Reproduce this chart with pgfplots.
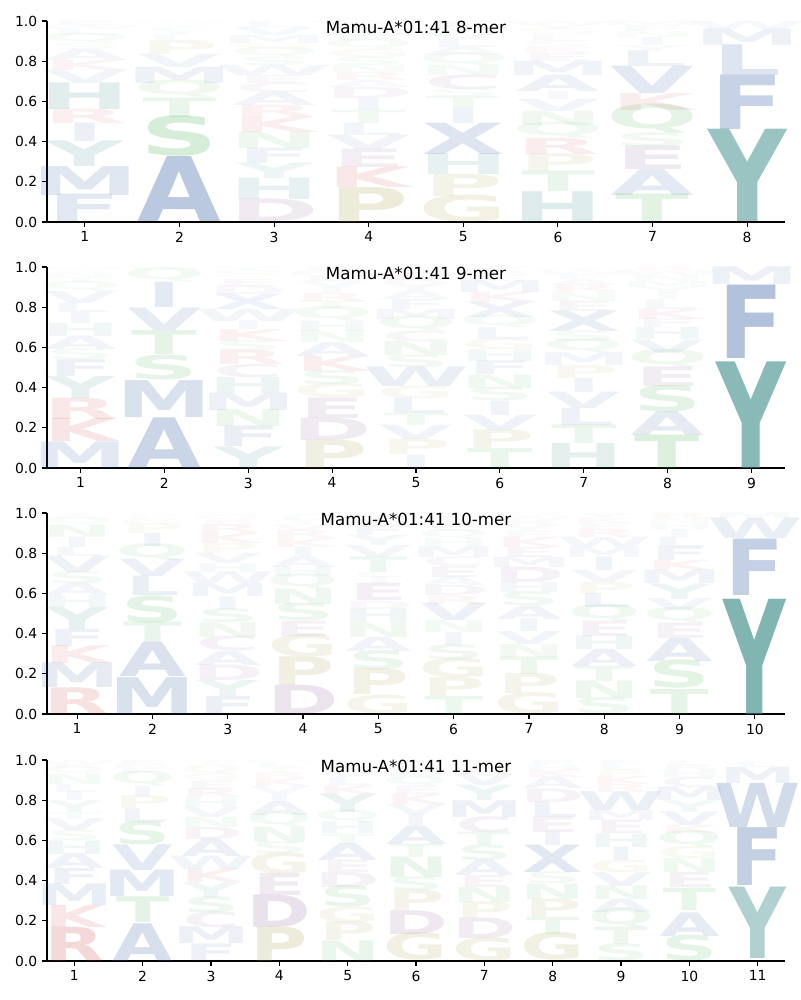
\documentclass[border=0pt]{standalone}
\usepackage{pgfplots}
\usepackage{pgfplotstable}
\usepackage{fontspec}
\pgfplotsset{compat=1.18}
\setmainfont{DejaVu Sans}
\newfontfamily\logofont{DejaVu Sans}
\definecolor{cblue}{RGB}{60,100,165}
\definecolor{cgreen}{RGB}{60,170,70}
\definecolor{cpurple}{RGB}{130,80,140}
\definecolor{colive}{RGB}{160,150,60}
\definecolor{cred}{RGB}{200,50,50}
\definecolor{cteal}{RGB}{50,135,130}
\colorlet{cA}{cblue}\colorlet{cV}{cblue}\colorlet{cL}{cblue}\colorlet{cI}{cblue}
\colorlet{cM}{cblue}\colorlet{cF}{cblue}\colorlet{cW}{cblue}\colorlet{cX}{cblue}
\colorlet{cS}{cgreen}\colorlet{cT}{cgreen}\colorlet{cN}{cgreen}\colorlet{cQ}{cgreen}
\colorlet{cD}{cpurple}\colorlet{cE}{cpurple}\colorlet{cC}{cpurple}
\colorlet{cP}{colive}\colorlet{cG}{colive}
\colorlet{cK}{cred}\colorlet{cR}{cred}
\colorlet{cY}{cteal}\colorlet{cH}{cteal}
\newdimen\logoW
\newdimen\logoHt
\newbox\logobox
\pgfplotsset{
 panel/.style={
  scale only axis, width=531.36pt, height=144.72pt,
  anchor=south west,
  xmin=0.6, ymin=0, ymax=1,
  axis x line*=bottom, axis y line*=left,
  tick align=outside, major tick length=3.5pt,
  axis line style={line width=0.8pt, black},
  tick style={line width=0.8pt, black},
  ytick={0,0.2,0.4,0.6,0.8,1.0},
  yticklabel style={/pgf/number format/.cd, fixed, fixed zerofill, precision=1},
  /pgf/number format/assume math mode=true,
  tick label style={font=\fontsize{10}{12}\selectfont},
  title style={at={(0.5,0.925)}, anchor=center, font=\fontsize{12}{14}\selectfont},
 },
 logo/.style={
  scatter, only marks, point meta=explicit symbolic,
  mark=*, mark size=0pt, mark options={draw=none, fill=none},
  visualization depends on={\thisrow{top}-\thisrow{bot} \as \logoh},
  scatter/@pre marker code/.code={%
    \pgfkeys{/pgf/fpu=false}%
    \edef\logolett{\pgfplotspointmeta}%
    \setbox\logobox=\hbox{\fontsize{10}{12}\logofont\bfseries\logolett}%
    \logoW=\wd\logobox
    \logoHt=\ht\logobox
    \advance\logoHt by \dp\logobox
    \ifdim\logoW<0.5pt \logoW=7pt\fi
    \ifdim\logoHt<0.5pt \logoHt=7pt\fi
    \pgfmathsetmacro{\logosx}{#1/\logoW}%
    \pgfmathsetmacro{\logosy}{\logoh*141.8/\logoHt}%
    \pgfmathsetmacro{\logoop}{min(0.9,1.1*\logoh)}%
    \node[inner sep=0pt, outer sep=0pt, anchor=south, xscale=\logosx, yscale=\logosy, opacity=\logoop, text=c\logolett] at (canvas cs:x=0pt,y=0pt) {\fontsize{10}{12}\logofont\bfseries\logolett};
  },
  scatter/@post marker code/.code={},
 },
}

\pgfplotstableread{
x bot top aa
1 0 0.134 F
1 0.134 0.275 M
1 0.275 0.40 Y
1 0.40 0.49 I
1 0.49 0.56 R
1 0.56 0.69 H
1 0.69 0.755 V
1 0.755 0.805 K
1 0.805 0.86 A
1 0.86 0.89 S
1 0.89 0.93 Q
1 0.93 0.96 L
1 0.96 0.98 W
1 0.98 1.0 E
2 0 0.317 A
2 0.325 0.515 S
2 0.52 0.615 T
2 0.62 0.69 Q
2 0.69 0.77 M
2 0.77 0.835 V
2 0.835 0.90 P
2 0.90 0.93 L
2 0.93 0.95 I
2 0.95 0.97 F
2 0.97 0.985 Y
2 0.985 1.0 W
3 0 0.11 D
3 0.11 0.215 H
3 0.215 0.29 Y
3 0.29 0.365 F
3 0.365 0.445 N
3 0.445 0.52 K
3 0.52 0.58 R
3 0.58 0.645 A
3 0.645 0.69 C
3 0.69 0.73 E
3 0.73 0.78 W
3 0.78 0.82 S
3 0.82 0.86 Q
3 0.86 0.89 G
3 0.89 0.93 M
3 0.93 0.97 V
3 0.97 1.0 L
4 0 0.17 P
4 0.17 0.27 K
4 0.27 0.36 E
4 0.36 0.43 V
4 0.43 0.49 L
4 0.49 0.555 T
4 0.555 0.615 I
4 0.615 0.67 D
4 0.67 0.705 A
4 0.705 0.745 R
4 0.745 0.78 N
4 0.78 0.82 S
4 0.82 0.86 G
4 0.86 0.90 Q
4 0.90 0.93 F
4 0.93 0.96 M
4 0.96 0.98 Y
4 0.98 1.0 W
5 0 0.126 G
5 0.126 0.234 P
5 0.234 0.337 H
5 0.337 0.49 X
5 0.49 0.565 I
5 0.565 0.625 T
5 0.625 0.66 S
5 0.66 0.73 C
5 0.73 0.78 N
5 0.78 0.83 Q
5 0.83 0.87 A
5 0.87 0.91 L
5 0.91 0.94 V
5 0.94 0.97 M
5 0.97 1.0 F
6 0 0.15 H
6 0.15 0.25 T
6 0.25 0.337 P
6 0.337 0.416 R
6 0.416 0.48 Q
6 0.48 0.55 N
6 0.55 0.61 V
6 0.61 0.65 I
6 0.65 0.73 A
6 0.73 0.80 M
6 0.80 0.84 E
6 0.84 0.87 K
6 0.87 0.90 S
6 0.90 0.93 L
6 0.93 0.96 G
6 0.96 0.98 Y
6 0.98 1.0 W
7 0 0.134 T
7 0.134 0.26 A
7 0.26 0.375 E
7 0.375 0.44 S
7 0.44 0.557 Q
7 0.557 0.64 K
7 0.64 0.773 V
7 0.773 0.85 L
7 0.85 0.88 Y
7 0.88 0.92 I
7 0.92 0.95 N
7 0.95 0.98 F
7 0.98 1.0 M
8 0 0.45 Y
8 0.458 0.723 F
8 0.73 0.88 L
8 0.88 0.96 M
8 0.96 1.0 W
}\tabA

\pgfplotstableread{
x bot top aa
1 0 0.13 M
1 0.13 0.243 K
1 0.243 0.347 R
1 0.347 0.455 Y
1 0.455 0.537 F
1 0.537 0.59 S
1 0.59 0.655 A
1 0.655 0.72 H
1 0.72 0.775 I
1 0.775 0.82 L
1 0.82 0.88 V
1 0.88 0.92 Q
1 0.92 0.95 T
1 0.95 0.97 N
1 0.97 0.985 E
1 0.985 1.0 W
2 0 0.247 A
2 0.25 0.43 M
2 0.438 0.555 S
2 0.563 0.68 T
2 0.683 0.793 V
2 0.797 0.92 I
2 0.927 0.983 Q
2 0.983 1.0 N
3 0 0.105 Y
3 0.105 0.205 F
3 0.205 0.288 N
3 0.288 0.372 M
3 0.372 0.45 H
3 0.45 0.513 C
3 0.513 0.583 R
3 0.583 0.63 S
3 0.63 0.688 K
3 0.688 0.73 I
3 0.73 0.788 W
3 0.788 0.863 X
3 0.863 0.905 D
3 0.905 0.94 E
3 0.94 0.96 G
3 0.96 0.98 Q
3 0.98 1.0 T
4 0 0.138 P
4 0.138 0.247 D
4 0.247 0.347 E
4 0.347 0.413 G
4 0.413 0.48 S
4 0.48 0.555 K
4 0.555 0.622 A
4 0.622 0.68 N
4 0.68 0.73 H
4 0.73 0.788 Q
4 0.788 0.83 T
4 0.83 0.87 R
4 0.87 0.90 I
4 0.90 0.93 V
4 0.93 0.96 L
4 0.96 0.98 M
4 0.98 1.0 F
5 0 0.065 I
5 0.065 0.14 P
5 0.14 0.21 V
5 0.21 0.27 T
5 0.27 0.345 L
5 0.345 0.405 G
5 0.405 0.50 W
5 0.50 0.56 S
5 0.56 0.63 N
5 0.63 0.68 C
5 0.68 0.74 Q
5 0.74 0.79 M
5 0.79 0.84 F
5 0.84 0.88 A
5 0.88 0.92 Y
5 0.92 0.95 R
5 0.95 0.975 E
5 0.975 1.0 K
6 0 0.097 T
6 0.097 0.188 P
6 0.188 0.263 V
6 0.263 0.333 I
6 0.333 0.397 S
6 0.397 0.463 N
6 0.463 0.53 F
6 0.53 0.588 H
6 0.588 0.638 G
6 0.638 0.697 L
6 0.697 0.747 Q
6 0.747 0.822 X
6 0.822 0.872 K
6 0.872 0.93 M
6 0.93 0.96 E
6 0.96 0.98 R
6 0.98 1.0 Y
7 0 0.122 H
7 0.122 0.213 T
7 0.213 0.297 L
7 0.297 0.377 V
7 0.377 0.447 I
7 0.447 0.51 P
7 0.51 0.572 M
7 0.572 0.63 Q
7 0.63 0.68 S
7 0.68 0.78 X
7 0.78 0.83 E
7 0.83 0.872 N
7 0.872 0.91 R
7 0.91 0.94 A
7 0.94 0.965 F
7 0.965 0.985 W
7 0.985 1.0 Y
8 0 0.163 T
8 0.163 0.28 A
8 0.28 0.405 S
8 0.405 0.50 E
8 0.50 0.572 Q
8 0.572 0.638 V
8 0.638 0.697 H
8 0.697 0.74 F
8 0.74 0.79 K
8 0.79 0.838 L
8 0.838 0.87 I
8 0.87 0.90 Y
8 0.90 0.93 M
8 0.93 0.96 N
8 0.96 0.98 W
8 0.98 1.0 R
9 0 0.52 Y
9 0.547 0.905 F
9 0.913 1.0 M
}\tabB

\pgfplotstableread{
x bot top aa
1 0 0.13 R
1 0.13 0.25 M
1 0.25 0.337 K
1 0.338 0.422 F
1 0.422 0.53 Y
1 0.53 0.588 H
1 0.588 0.647 A
1 0.647 0.705 S
1 0.705 0.785 V
1 0.785 0.83 L
1 0.83 0.88 I
1 0.88 0.94 N
1 0.94 0.97 Q
1 0.97 0.985 E
1 0.985 1.0 T
2 0 0.18 M
2 0.188 0.355 A
2 0.355 0.455 T
2 0.455 0.583 S
2 0.588 0.683 L
2 0.683 0.767 V
2 0.767 0.833 Q
2 0.833 0.897 I
2 0.90 0.95 P
2 0.95 0.97 N
2 0.97 0.985 E
2 0.985 1.0 R
3 0 0.088 F
3 0.088 0.167 Y
3 0.167 0.243 D
3 0.243 0.313 A
3 0.313 0.383 C
3 0.383 0.455 N
3 0.455 0.522 S
3 0.522 0.583 I
3 0.583 0.647 M
3 0.647 0.705 W
3 0.705 0.747 H
3 0.747 0.797 V
3 0.797 0.847 P
3 0.847 0.897 K
3 0.897 0.94 R
3 0.94 0.965 E
3 0.965 0.985 Q
3 0.985 1.0 G
4 0 0.143 D
4 0.143 0.283 P
4 0.283 0.388 G
4 0.388 0.463 E
4 0.463 0.547 S
4 0.547 0.622 N
4 0.622 0.683 Q
4 0.683 0.73 H
4 0.73 0.783 A
4 0.783 0.83 I
4 0.83 0.872 K
4 0.872 0.913 R
4 0.913 0.94 V
4 0.94 0.965 T
4 0.965 0.985 L
4 0.985 1.0 Y
5 0 0.088 G
5 0.097 0.222 P
5 0.222 0.313 S
5 0.313 0.383 A
5 0.383 0.455 N
5 0.455 0.522 H
5 0.522 0.563 D
5 0.563 0.647 E
5 0.647 0.68 I
5 0.68 0.705 L
5 0.705 0.78 T
5 0.78 0.838 V
5 0.838 0.888 Y
5 0.888 0.938 F
5 0.938 0.96 K
5 0.96 0.98 Q
5 0.98 1.0 R
6 0 0.088 T
6 0.088 0.18 P
6 0.18 0.272 G
6 0.272 0.343 S
6 0.343 0.405 I
6 0.405 0.463 N
6 0.463 0.547 V
6 0.547 0.588 R
6 0.588 0.638 D
6 0.638 0.68 A
6 0.68 0.733 E
6 0.733 0.78 C
6 0.78 0.833 M
6 0.833 0.872 H
6 0.872 0.91 Q
6 0.91 0.94 L
6 0.94 0.965 K
6 0.965 0.985 F
6 0.985 1.0 Y
7 0 0.10 G
7 0.10 0.197 P
7 0.197 0.283 T
7 0.283 0.347 N
7 0.347 0.41 V
7 0.41 0.472 I
7 0.472 0.538 A
7 0.538 0.605 S
7 0.605 0.655 H
7 0.655 0.73 D
7 0.73 0.78 M
7 0.78 0.83 E
7 0.83 0.88 K
7 0.88 0.91 F
7 0.91 0.94 Y
7 0.94 0.965 R
7 0.965 0.985 W
7 0.985 1.0 Q
8 0 0.077 S
8 0.077 0.163 N
8 0.163 0.238 T
8 0.238 0.322 A
8 0.322 0.388 H
8 0.388 0.463 E
8 0.463 0.53 Q
8 0.53 0.597 L
8 0.597 0.655 P
8 0.655 0.713 V
8 0.713 0.78 I
8 0.78 0.83 M
8 0.83 0.88 W
8 0.88 0.92 R
8 0.92 0.95 F
8 0.95 0.975 K
8 0.975 1.0 Y
9 0 0.122 T
9 0.13 0.263 S
9 0.263 0.375 A
9 0.375 0.45 E
9 0.45 0.513 Q
9 0.513 0.572 V
9 0.572 0.647 Y
9 0.647 0.713 M
9 0.713 0.763 K
9 0.763 0.83 F
9 0.83 0.88 L
9 0.88 0.92 I
9 0.92 0.95 H
9 0.95 0.975 N
9 0.975 1.0 R
10 0 0.562 Y
10 0.588 0.863 F
10 0.872 0.972 W
10 0.972 1.0 M
}\tabC

\pgfplotstableread{
x bot top aa
1 0 0.167 R
1 0.167 0.275 K
1 0.275 0.38 M
1 0.38 0.458 F
1 0.458 0.532 A
1 0.532 0.598 H
1 0.598 0.648 S
1 0.648 0.706 V
1 0.706 0.74 T
1 0.74 0.797 Y
1 0.797 0.84 I
1 0.84 0.88 L
1 0.88 0.93 N
1 0.93 0.96 Q
1 0.96 0.98 E
1 0.98 1.0 W
2 0 0.184 A
2 0.192 0.317 T
2 0.32 0.449 M
2 0.449 0.574 V
2 0.579 0.69 S
2 0.69 0.757 L
2 0.757 0.82 P
2 0.82 0.87 I
2 0.87 0.93 Q
2 0.93 0.96 F
2 0.96 0.98 N
2 0.98 1.0 E
3 0 0.085 F
3 0.085 0.167 M
3 0.167 0.242 C
3 0.242 0.317 S
3 0.317 0.389 Y
3 0.389 0.455 K
3 0.455 0.52 W
3 0.52 0.606 A
3 0.606 0.665 D
3 0.665 0.715 N
3 0.715 0.765 V
3 0.765 0.812 H
3 0.812 0.855 R
3 0.855 0.896 E
3 0.896 0.93 G
3 0.93 0.96 Q
3 0.96 0.98 P
3 0.98 1.0 T
4 0 0.167 P
4 0.167 0.325 D
4 0.325 0.433 E
4 0.433 0.532 G
4 0.532 0.59 S
4 0.59 0.665 N
4 0.665 0.723 Q
4 0.723 0.79 A
4 0.79 0.83 I
4 0.83 0.87 V
4 0.87 0.91 K
4 0.91 0.94 R
4 0.94 0.965 T
4 0.965 0.985 L
4 0.985 1.0 M
5 0 0.10 N
5 0.10 0.192 P
5 0.192 0.267 G
5 0.267 0.366 S
5 0.366 0.44 D
5 0.44 0.50 E
5 0.50 0.582 A
5 0.582 0.632 T
5 0.632 0.69 H
5 0.69 0.74 Q
5 0.74 0.83 Y
5 0.83 0.872 K
5 0.872 0.913 L
5 0.913 0.945 V
5 0.945 0.97 R
5 0.97 0.985 F
5 0.985 1.0 I
6 0.005 0.134 G
6 0.134 0.25 D
6 0.25 0.35 P
6 0.35 0.416 S
6 0.416 0.516 N
6 0.516 0.582 T
6 0.582 0.673 A
6 0.673 0.73 I
6 0.73 0.78 V
6 0.78 0.83 K
6 0.83 0.872 E
6 0.872 0.91 Q
6 0.91 0.94 H
6 0.94 0.965 R
6 0.965 0.985 L
6 0.985 1.0 Y
7 0 0.11 G
7 0.11 0.21 D
7 0.21 0.292 P
7 0.292 0.366 N
7 0.366 0.425 E
7 0.425 0.50 A
7 0.50 0.574 S
7 0.574 0.64 T
7 0.64 0.715 C
7 0.715 0.797 M
7 0.797 0.872 Y
7 0.872 0.93 V
7 0.93 0.96 R
7 0.96 0.98 L
7 0.98 1.0 K
8 0.005 0.134 G
8 0.134 0.217 T
8 0.217 0.308 P
8 0.308 0.383 N
8 0.383 0.44 S
8 0.44 0.574 X
8 0.574 0.64 I
8 0.64 0.715 E
8 0.715 0.79 L
8 0.79 0.856 D
8 0.856 0.913 A
8 0.913 0.95 K
8 0.95 0.975 H
8 0.975 1.0 F
9 0 0.08 S
9 0.08 0.165 T
9 0.165 0.24 Q
9 0.24 0.306 A
9 0.306 0.373 N
9 0.373 0.44 V
9 0.44 0.50 G
9 0.50 0.566 I
9 0.566 0.632 H
9 0.632 0.698 E
9 0.698 0.748 M
9 0.748 0.84 W
9 0.84 0.88 R
9 0.88 0.92 K
9 0.92 0.95 P
9 0.95 0.975 L
9 0.975 1.0 F
10 0 0.122 S
10 0.122 0.237 A
10 0.25 0.358 T
10 0.366 0.44 E
10 0.44 0.508 N
10 0.508 0.566 G
10 0.566 0.632 Q
10 0.632 0.673 K
10 0.673 0.74 V
10 0.74 0.797 Y
10 0.797 0.864 M
10 0.864 0.914 C
10 0.914 0.95 H
10 0.95 0.975 R
10 0.975 1.0 L
11 0.01 0.358 Y
11 0.375 0.657 F
11 0.665 0.88 W
11 0.884 0.963 M
11 0.963 0.99 L
}\tabD

\begin{document}
\begin{tikzpicture}
\useasboundingbox (-33.84pt,-560.16pt) rectangle (542.16pt,159.84pt);
\begin{axis}[panel, at={(0pt,0pt)}, xmax=8.4, xtick={1,...,8}, title={Mamu-A*01:41 8-mer}]
\addplot[logo=54.5pt] table[x=x,y=bot,meta=aa] {\tabA};
\end{axis}
\begin{axis}[panel, at={(0pt,-177.12pt)}, xmax=9.4, xtick={1,...,9}, title={Mamu-A*01:41 9-mer}]
\addplot[logo=48.3pt] table[x=x,y=bot,meta=aa] {\tabB};
\end{axis}
\begin{axis}[panel, at={(0pt,-354.24pt)}, xmax=10.4, xtick={1,...,10}, title={Mamu-A*01:41 10-mer}]
\addplot[logo=43.4pt] table[x=x,y=bot,meta=aa] {\tabC};
\end{axis}
\begin{axis}[panel, at={(0pt,-532.08pt)}, xmax=11.4, xtick={1,...,11}, title={Mamu-A*01:41 11-mer}]
\addplot[logo=39.4pt] table[x=x,y=bot,meta=aa] {\tabD};
\end{axis}
\end{tikzpicture}
\end{document}
